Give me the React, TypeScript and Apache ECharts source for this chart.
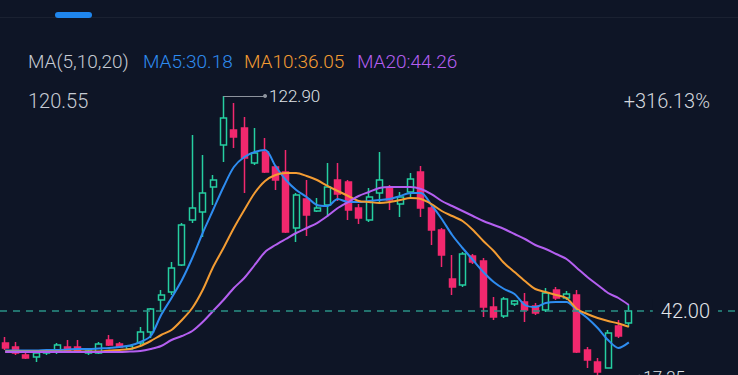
import React, { useEffect, useRef } from 'react';
import * as echarts from 'echarts';

const BG = '#0e1526';
const UP = '#25cfa1';
const DOWN = '#f2286e';
const C_MA5 = '#2e8cf0';
const C_MA10 = '#f39c33';
const C_MA20 = '#b45ff0';
const FONT = 'Roboto, "Noto Sans", sans-serif';

// 61 trading days + empty slots on the right
const categories: string[] = Array.from({ length: 71 }, (_, i) => String(i + 1));

// [open, close, low, high]
const candles: number[][] = [
  [29.96, 28.08, 27.33, 32.22],
  [28.45, 26.2, 25.44, 30.34],
  [25.44, 24.31, 23.94, 26.57],
  [24.69, 26.2, 22.81, 26.57],
  [26.2, 26.95, 25.44, 27.7],
  [26.57, 29.21, 25.82, 29.96],
  [28.45, 26.95, 26.57, 31.09],
  [28.45, 26.57, 26.2, 31.09],
  [26.2, 26.95, 25.44, 27.33],
  [26.2, 29.58, 25.82, 30.34],
  [31.09, 29.21, 28.83, 32.97],
  [29.58, 28.45, 28.27, 30.34],
  [27.7, 28.83, 27.33, 29.21],
  [29.96, 34.1, 29.21, 35.98],
  [34.1, 42.75, 31.84, 43.13],
  [46.14, 48.02, 41.62, 49.9],
  [49.15, 58.18, 48.02, 60.44],
  [59.31, 74.36, 58.93, 75.11],
  [76.24, 80.76, 75.11, 108.23],
  [79.25, 86.4, 69.84, 100.7],
  [88.66, 91.29, 81.89, 93.17],
  [104.46, 114.62, 98.07, 122.9],
  [110.11, 107.47, 103.33, 120.27],
  [110.86, 99.57, 86.4, 115.0],
  [97.69, 101.45, 96.94, 110.86],
  [101.83, 94.3, 93.93, 107.1],
  [96.18, 91.29, 87.53, 96.94],
  [94.3, 71.73, 71.35, 102.58],
  [73.23, 85.65, 67.96, 86.4],
  [84.14, 78.12, 70.22, 91.29],
  [79.63, 80.76, 79.25, 84.52],
  [81.89, 88.66, 77.37, 97.69],
  [91.29, 86.02, 83.39, 97.69],
  [90.54, 80.0, 76.24, 91.29],
  [80.76, 76.99, 74.74, 82.26],
  [76.24, 84.9, 75.49, 88.28],
  [86.4, 91.29, 82.26, 101.83],
  [88.28, 83.77, 80.0, 89.41],
  [82.26, 84.9, 77.37, 86.78],
  [86.78, 91.67, 84.52, 93.93],
  [94.3, 80.76, 77.37, 96.56],
  [80.76, 72.48, 66.83, 81.89],
  [72.48, 63.07, 58.56, 73.23],
  [54.04, 51.03, 48.02, 63.07],
  [51.78, 63.45, 51.03, 64.2],
  [62.7, 60.44, 59.69, 63.45],
  [60.81, 43.51, 39.74, 61.94],
  [43.51, 39.74, 38.61, 47.27],
  [40.12, 46.52, 39.37, 47.27],
  [44.63, 45.76, 43.88, 46.14],
  [45.39, 42.38, 37.86, 48.77],
  [43.88, 41.25, 40.49, 45.01],
  [42.38, 48.77, 41.62, 50.65],
  [49.9, 46.89, 46.14, 51.03],
  [46.89, 48.4, 46.14, 49.53],
  [48.02, 26.57, 26.2, 49.9],
  [27.33, 23.56, 20.55, 28.45],
  [22.81, 19.05, 17.25, 24.31],
  [20.55, 33.72, 20.36, 34.85],
  [36.36, 32.59, 31.84, 38.61],
  [37.48, 42.0, 35.98, 44.26],
];

const ma5: number[] = [
  27.14, 27.14, 27.14, 27.14, 27.33, 27.33, 27.51, 27.7, 27.7, 27.89,
  28.08, 28.45, 29.02, 30.34, 32.59, 40.49, 46.89, 53.66, 61.94, 71.35,
  80.0, 88.66, 96.18, 99.95, 101.83, 102.58, 96.56, 91.29, 87.53, 84.9,
  81.89, 81.51, 84.14, 83.01, 83.01, 83.39, 83.77, 84.14, 85.27, 86.4,
  86.4, 81.89, 76.62, 70.6, 65.71, 61.19, 56.67, 52.91, 50.28, 48.4,
  44.26, 43.51, 45.01, 45.39, 45.39, 42.38, 39.37, 35.6, 31.09, 28.08,
  30.18,
];

const ma10: number[] = [
  26.76, 26.76, 26.76, 26.76, 26.76, 26.76, 26.76, 26.76, 26.76, 26.76,
  27.14, 27.33, 27.7, 28.83, 30.71, 32.97, 34.85, 38.61, 43.13, 49.9,
  58.56, 65.71, 73.23, 80.0, 86.4, 90.92, 93.17, 93.93, 93.93, 92.8,
  91.29, 89.04, 87.15, 85.27, 83.39, 83.01, 82.64, 83.01, 83.77, 84.52,
  84.14, 82.26, 79.63, 77.75, 75.87, 72.48, 68.34, 64.58, 60.06, 56.67,
  53.29, 50.28, 49.15, 48.02, 46.89, 42.75, 40.87, 39.37, 38.24, 37.3,
  36.05,
];

const ma20: number[] = [
  26.57, 26.57, 26.57, 26.57, 26.57, 26.57, 26.57, 26.57, 26.57, 26.57,
  26.57, 26.57, 26.76, 26.95, 27.7, 28.83, 31.09, 32.59, 34.47, 37.86,
  42.0, 46.14, 50.65, 54.42, 59.31, 64.2, 66.83, 69.09, 71.35, 73.23,
  75.11, 77.75, 80.76, 83.01, 85.27, 86.78, 88.28, 88.66, 88.66, 88.66,
  87.91, 86.02, 83.39, 81.51, 79.63, 77.75, 75.87, 74.36, 72.86, 70.97,
  69.09, 66.83, 65.33, 63.45, 61.57, 58.18, 54.79, 51.78, 48.77, 46.89,
  44.26,
];

const maLegendTitle = 'MA(5,10,20)';
const topLeftValue = '120.55';
const changePercent = '+316.13%';

const last = (a: number[]) => a[a.length - 1];

export default function App() {
  const ref = useRef<HTMLDivElement>(null);

  useEffect(() => {
    document.body.style.margin = '0';
    document.body.style.background = BG;
    const chart = echarts.init(ref.current!, null, { renderer: 'svg' });

    let hiIdx = 0;
    let loIdx = 0;
    candles.forEach((c, i) => {
      if (c[3] > candles[hiIdx][3]) hiIdx = i;
      if (c[2] < candles[loIdx][2]) loIdx = i;
    });
    const hi = candles[hiIdx][3];
    const lo = candles[loIdx][2];
    const lastClose = candles[candles.length - 1][1];

    const lineSeries = (name: string, data: number[], color: string) => ({
      name,
      type: 'line',
      data,
      symbol: 'none',
      smooth: 0.3,
      lineStyle: { color, width: 2 },
      z: 3,
      silent: true,
    });

    const txt = (id: string, x: number, y: number, text: string, fill: string, size: number, align = 'left') => ({
      id,
      type: 'text',
      x,
      y,
      style: {
        text,
        fill,
        fontSize: size,
        fontFamily: FONT,
        fontWeight: 300,
        align,
        verticalAlign: 'middle',
      },
    });

    const baseGraphic: any[] = [
      {
        id: 'sep',
        type: 'line',
        shape: { x1: 0, y1: 17.5, x2: 738, y2: 17.5 },
        style: { stroke: '#1a2131', lineWidth: 1 },
      },
      {
        id: 'tab',
        type: 'rect',
        shape: { x: 55, y: 12, width: 37, height: 6, r: 3 },
        style: { fill: '#1f86ee' },
      },
      txt('lg0', 28, 61, maLegendTitle, '#c6cbd4', 19),
      txt('lg1', 143, 61, `MA5:${last(ma5).toFixed(2)}`, C_MA5, 19),
      txt('lg2', 244, 61, `MA10:${last(ma10).toFixed(2)}`, C_MA10, 19),
      txt('lg3', 357, 61, `MA20:${last(ma20).toFixed(2)}`, C_MA20, 19),
      txt('tl', 28, 101, topLeftValue, '#c6cbd4', 20),
      txt('tr', 710, 101, changePercent, '#d3d7de', 20, 'right'),
    ];

    chart.setOption({
      animation: false,
      backgroundColor: BG,
      grid: { left: 0, width: 738, top: 90.42, bottom: 0 },
      xAxis: { type: 'category', data: categories, show: false, boundaryGap: true },
      yAxis: { type: 'value', min: 17.92, max: 125, show: false },
      graphic: baseGraphic,
      series: [
        {
          type: 'candlestick',
          data: candles,
          barWidth: 6.5,
          silent: true,
          clip: false,
          itemStyle: {
            color: BG,
            color0: DOWN,
            borderColor: UP,
            borderColor0: DOWN,
            borderWidth: 1.5,
          },
          markLine: {
            silent: true,
            symbol: ['none', 'none'],
            animation: false,
            data: [
              {
                yAxis: lastClose,
                lineStyle: { color: '#2a9186', type: [7, 6], width: 1.5 },
                label: {
                  show: true,
                  position: 'insideEnd',
                  distance: 20,
                  formatter: lastClose.toFixed(2),
                  color: '#e2e5ea',
                  fontSize: 20,
                  fontFamily: FONT,
                  fontWeight: 300,
                  backgroundColor: BG,
                  padding: [2, 8],
                },
              },
              [
                {
                  coord: [hiIdx, hi],
                  symbol: 'none',
                  lineStyle: { color: '#8d939d', width: 1, type: 'solid' },
                  label: {
                    show: true,
                    position: 'end',
                    distance: 4,
                    formatter: hi.toFixed(2),
                    color: '#dfe2e7',
                    fontSize: 17,
                    fontFamily: FONT,
                    fontWeight: 300,
                  },
                },
                { coord: [hiIdx + 4, hi], symbol: 'circle', symbolSize: 4, itemStyle: { color: '#b5bac2' } },
              ],
            ],
          },
        },
        lineSeries('MA5', ma5, C_MA5),
        lineSeries('MA10', ma10, C_MA10),
        lineSeries('MA20', ma20, C_MA20),
      ],
    });

    // low marker (lies just below the visible plot area) positioned via the chart's own scales
    const p1 = chart.convertToPixel({ gridIndex: 0 }, [loIdx, lo]) as number[];
    const p2 = chart.convertToPixel({ gridIndex: 0 }, [loIdx + 4, lo]) as number[];
    chart.setOption({
      graphic: [
        ...baseGraphic,
        {
          id: 'loLine',
          type: 'line',
          shape: { x1: p1[0], y1: p1[1], x2: p2[0], y2: p2[1] },
          style: { stroke: '#8d939d', lineWidth: 1 },
        },
        {
          id: 'loDot',
          type: 'circle',
          shape: { cx: p2[0], cy: p2[1], r: 2 },
          style: { fill: '#b5bac2' },
        },
        txt('loTxt', p2[0] + 4, p2[1], lo.toFixed(2), '#dfe2e7', 17),
      ],
    });

    return () => chart.dispose();
  }, []);

  return <div ref={ref} style={{ width: 738, height: 375, background: BG }} />;
}
